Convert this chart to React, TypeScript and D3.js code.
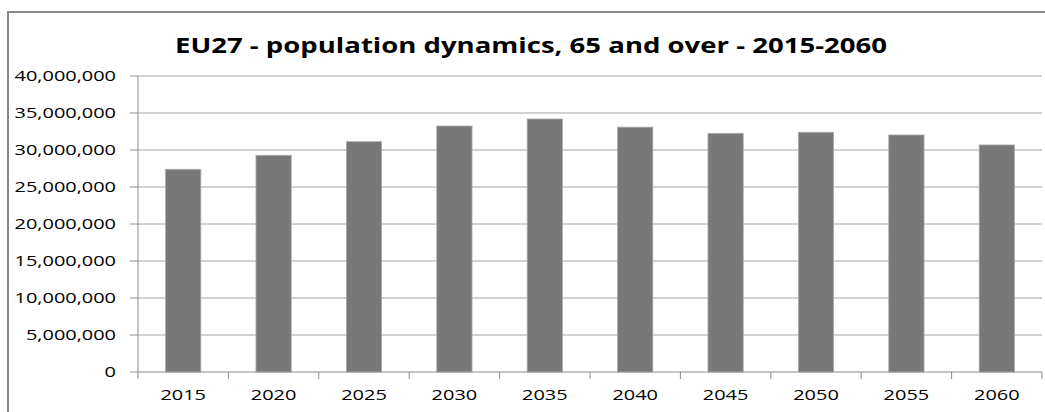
import React from "react";
import * as d3 from "d3";

const years = ["2015", "2020", "2025", "2030", "2035", "2040", "2045", "2050", "2055", "2060"];
const population = [27390000, 29280000, 31120000, 33240000, 34190000, 33090000, 32250000, 32390000, 32030000, 30680000];
const yTicks = [0, 5000000, 10000000, 15000000, 20000000, 25000000, 30000000, 35000000, 40000000];
const title = "EU27 - population dynamics, 65 and over - 2015-2060";

const W = 1045;
const H = 412;
const plot = { left: 138, right: 1042, top: 76, bottom: 372 };
const SX = 1.33;
const FONT = "'Open Sans', 'DejaVu Sans', sans-serif";

export default function App() {
  const x = d3
    .scaleBand<string>()
    .domain(years)
    .range([plot.left, plot.right])
    .paddingInner(0.61)
    .paddingOuter(0.305);
  const y = d3.scaleLinear().domain([0, 40000000]).range([plot.bottom, plot.top]);
  const fmt = d3.format(",");
  const step = x.step();
  const boundaries = d3.range(years.length + 1).map((i) => plot.left + i * step);

  return (
    <svg
      width={W}
      height={H}
      style={{ position: "absolute", left: 0, top: 0, background: "#fff" }}
      fontFamily={FONT}
    >
      <rect x={0} y={0} width={W} height={H} fill="#fff" />
      <rect x={8} y={12} width={W + 20} height={H + 20} fill="none" stroke="#878787" strokeWidth={2} />
      <text
        x={175}
        y={53}
        fontSize={22}
        fontWeight="bold"
        fill="#000"
        textLength={712}
        lengthAdjust="spacingAndGlyphs"
      >
        {title}
      </text>
      {yTicks.map((t) => (
        <g key={t}>
          {t > 0 && (
            <line x1={plot.left} x2={plot.right} y1={y(t)} y2={y(t)} stroke="#a6a6a6" strokeWidth={1} />
          )}
          <line x1={plot.left - 8} x2={plot.left} y1={y(t)} y2={y(t)} stroke="#8c8c8c" strokeWidth={1} />
          <g transform={`translate(116,${y(t)}) scale(${SX},1)`}>
            <text textAnchor="end" dy="0.35em" fontSize={15} fill="#000">
              {fmt(t)}
            </text>
          </g>
        </g>
      ))}
      {years.map((yr, i) => (
        <rect
          key={yr}
          x={x(yr)}
          y={y(population[i])}
          width={x.bandwidth()}
          height={plot.bottom - y(population[i])}
          fill="#787878"
          stroke="#a9a9a9"
          strokeWidth={0.8}
        />
      ))}
      <line x1={plot.left} x2={plot.left} y1={plot.top} y2={plot.bottom} stroke="#8c8c8c" strokeWidth={1} />
      <line x1={plot.left} x2={plot.right} y1={plot.bottom} y2={plot.bottom} stroke="#8c8c8c" strokeWidth={1} />
      {boundaries.map((bx, i) => (
        <line key={i} x1={bx} x2={bx} y1={plot.bottom} y2={plot.bottom + 7} stroke="#8c8c8c" strokeWidth={1} />
      ))}
      {years.map((yr) => (
        <g key={yr} transform={`translate(${(x(yr) as number) + x.bandwidth() / 2},400) scale(${SX},1)`}>
          <text textAnchor="middle" fontSize={15} fill="#000">
            {yr}
          </text>
        </g>
      ))}
    </svg>
  );
}
